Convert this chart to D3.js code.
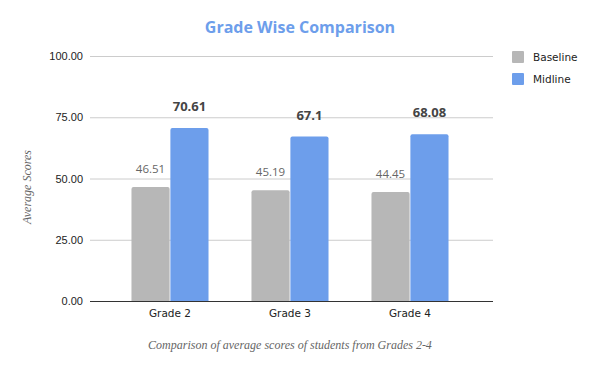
<!DOCTYPE html>
<html>
<head>
<meta charset="utf-8">
<script src="https://cdn.jsdelivr.net/npm/d3@7"></script>
<style>
  body { margin: 0; background: #fff; }
  svg { display: block; }
</style>
</head>
<body>
<svg id="chart" width="600" height="371"></svg>
<script>
const grades = ['Grade 2', 'Grade 3', 'Grade 4'];
const seriesNames = ['Baseline', 'Midline'];
const baseline = [46.51, 45.19, 44.45];
const midline = [70.61, 67.1, 68.08];
const baselineLabels = ['46.51', '45.19', '44.45'];
const midlineLabels = ['70.61', '67.1', '68.08'];
const yTicks = [0, 25, 50, 75, 100];
const colors = ['#b7b7b7', '#6d9eeb'];

let svg = d3.select('#chart');

let x0 = d3.scaleBand()
  .domain(grades)
  .range([110, 470])
  .paddingInner(0.358)
  .paddingOuter(0.179);

let x1 = d3.scaleBand()
  .domain(seriesNames)
  .range([0, x0.bandwidth()])
  .paddingInner(0.02);

let y = d3.scaleLinear()
  .domain([0, 100])
  .range([301, 56]);

// grid lines
svg.append('g')
  .selectAll('line')
  .data(yTicks.filter(d => d > 0))
  .join('line')
  .attr('x1', 90)
  .attr('x2', 493)
  .attr('y1', d => y(d) + 0.5)
  .attr('y2', d => y(d) + 0.5)
  .style('stroke', '#cccccc')
  .style('stroke-width', 1);

// y tick labels
svg.append('g')
  .selectAll('text')
  .data(yTicks)
  .join('text')
  .attr('x', 83)
  .attr('y', d => y(d) + 4)
  .attr('text-anchor', 'end')
  .style('font-family', 'Liberation Sans, Arial, sans-serif')
  .style('font-size', '11px')
  .style('fill', '#222')
  .text(d => d.toFixed(2));

// bars
let rows = grades.map((g, i) => ({
  grade: g,
  values: [
    { key: 'Baseline', value: baseline[i], label: baselineLabels[i] },
    { key: 'Midline', value: midline[i], label: midlineLabels[i] }
  ]
}));

let groups = svg.append('g')
  .selectAll('g')
  .data(rows)
  .join('g')
  .attr('transform', d => `translate(${x0(d.grade)},0)`);

// rounded top corners only
function barPath(d) {
  let bx = x1(d.key), bw = x1.bandwidth();
  let top = y(d.value), bottom = y(0), r = 2;
  return `M${bx},${bottom}V${top + r}Q${bx},${top} ${bx + r},${top}` +
    `H${bx + bw - r}Q${bx + bw},${top} ${bx + bw},${top + r}V${bottom}Z`;
}

groups.selectAll('path')
  .data(d => d.values)
  .join('path')
  .attr('d', barPath)
  .style('fill', (d, i) => colors[i]);

groups.selectAll('text')
  .data(d => d.values)
  .join('text')
  .attr('x', d => x1(d.key) + x1.bandwidth() / 2)
  .attr('y', d => d.key === 'Midline' ? y(d.value) - 17 : y(d.value) - 14)
  .attr('text-anchor', 'middle')
  .style('font-family', 'Open Sans, sans-serif')
  .style('font-size', d => d.key === 'Midline' ? '13px' : '11.5px')
  .style('font-weight', d => d.key === 'Midline' ? 'bold' : 'normal')
  .style('fill', d => d.key === 'Midline' ? '#444' : '#666')
  .text(d => d.label);

// x axis baseline
svg.append('line')
  .attr('x1', 90)
  .attr('x2', 493)
  .attr('y1', y(0) + 0.5)
  .attr('y2', y(0) + 0.5)
  .style('stroke', '#333')
  .style('stroke-width', 1);

svg.append('g')
  .selectAll('text')
  .data(grades)
  .join('text')
  .attr('x', d => x0(d) + x0.bandwidth() / 2)
  .attr('y', 317)
  .attr('text-anchor', 'middle')
  .style('font-family', 'DejaVu Sans, sans-serif')
  .style('font-size', '10.5px')
  .style('fill', '#222')
  .text(d => d);

// title
svg.append('text')
  .attr('x', 300)
  .attr('y', 33)
  .attr('text-anchor', 'middle')
  .style('font-family', 'Open Sans, sans-serif')
  .style('font-size', '16px')
  .style('font-weight', 'bold')
  .style('fill', '#6d9eeb')
  .text('Grade Wise Comparison');

// y axis title
svg.append('text')
  .attr('transform', 'translate(31,187) rotate(-90)')
  .attr('text-anchor', 'middle')
  .style('font-family', 'Liberation Serif, serif')
  .style('font-style', 'italic')
  .style('font-size', '12px')
  .style('fill', '#666')
  .text('Average Scores');

// caption
svg.append('text')
  .attr('x', 290)
  .attr('y', 349)
  .attr('text-anchor', 'middle')
  .style('font-family', 'Liberation Serif, serif')
  .style('font-style', 'italic')
  .style('font-size', '12px')
  .style('fill', '#666')
  .text('Comparison of average scores of students from Grades 2-4');

// legend
let legend = svg.append('g')
  .selectAll('g')
  .data(seriesNames)
  .join('g')
  .attr('transform', (d, i) => `translate(512,${51 + i * 22})`);

legend.append('rect')
  .attr('width', 12)
  .attr('height', 12)
  .attr('rx', 1)
  .style('fill', (d, i) => colors[i]);

legend.append('text')
  .attr('x', 21)
  .attr('y', 10)
  .style('font-family', 'DejaVu Sans, sans-serif')
  .style('font-size', '10.5px')
  .style('fill', '#222')
  .text(d => d);
</script>
</body>
</html>
